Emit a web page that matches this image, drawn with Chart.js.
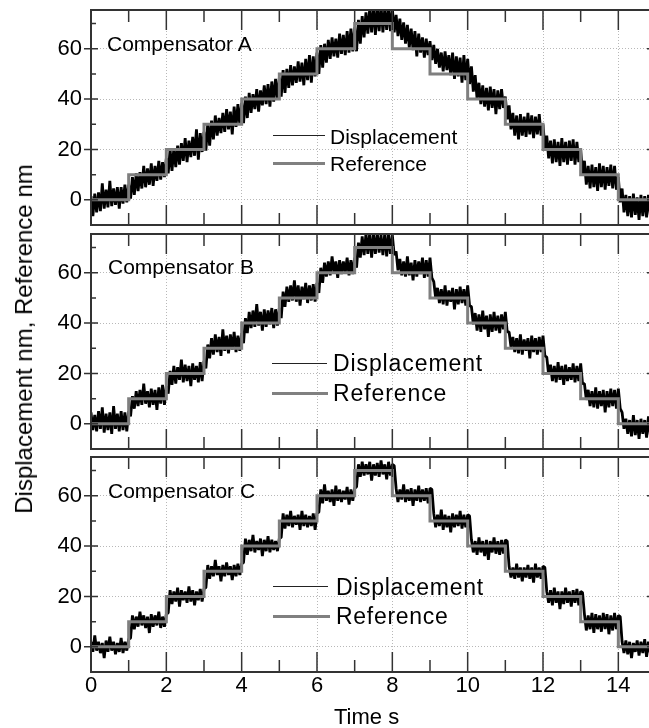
<!DOCTYPE html>
<html>
<head>
<meta charset="utf-8">
<script src="https://cdn.jsdelivr.net/npm/chart.js@4.4.1/dist/chart.umd.min.js"></script>
<style>
  html, body { margin: 0; padding: 0; background: #fff; overflow: hidden; }
  #fig { position: relative; width: 649px; height: 728px; overflow: hidden;
         font-family: "Liberation Sans", Arial, sans-serif; color: #000; }
  #fig canvas { position: absolute; left: 0; }
  .txt { position: absolute; white-space: nowrap; line-height: 1; }
  .sw { position: absolute; height: 0; }
</style>
</head>
<body>
<div id="fig">
  <canvas id="panelA" width="680" height="235" style="top:0px"></canvas>
  <canvas id="panelB" width="680" height="235" style="top:224px"></canvas>
  <canvas id="panelC" width="680" height="281" style="top:447px"></canvas>

  <div class="txt" style="left:107px; top:33px; font-size:21px;">Compensator A</div>
  <div class="sw" style="left:273px; top:135px; width:52px; border-top:1.2px solid #222;"></div>
  <div class="sw" style="left:273px; top:162px; width:52px; border-top:3px solid #808080;"></div>
  <div class="txt" style="left:330px; top:126px; font-size:21px;">Displacement</div>
  <div class="txt" style="left:330px; top:153px; font-size:21px;">Reference</div>

  <div class="txt" style="left:108px; top:256px; font-size:21px;">Compensator B</div>
  <div class="sw" style="left:272px; top:363px; width:55px; border-top:1.2px solid #222;"></div>
  <div class="sw" style="left:272px; top:392px; width:56px; border-top:3px solid #808080;"></div>
  <div class="txt" style="left:333px; top:352px; font-size:23px; letter-spacing:0.9px;">Displacement</div>
  <div class="txt" style="left:333px; top:382px; font-size:23px; letter-spacing:0.9px;">Reference</div>

  <div class="txt" style="left:108px; top:480px; font-size:21px;">Compensator C</div>
  <div class="sw" style="left:273px; top:586px; width:55px; border-top:1.2px solid #222;"></div>
  <div class="sw" style="left:273px; top:615px; width:57px; border-top:3px solid #808080;"></div>
  <div class="txt" style="left:336px; top:576px; font-size:23px; letter-spacing:0.7px;">Displacement</div>
  <div class="txt" style="left:336px; top:605px; font-size:23px; letter-spacing:0.7px;">Reference</div>

  <div class="txt" style="left:23.5px; top:339px; font-size:24px; transform:translate(-50%,-50%) rotate(-90deg);">Displacement nm, Reference nm</div>
  <div class="txt" style="left:334px; top:706px; font-size:22px;">Time s</div>
</div>

<script>
// Axis ticks
const xMajorTicks = [0, 2, 4, 6, 8, 10, 12, 14];
const xMinorTicks = [1, 3, 5, 7, 9, 11, 13];
const yMajorTicks = [0, 20, 40, 60];
const yMinorTicks = [10, 30, 50, 70];

// Reference staircase (nm), one level per second
const stepTimes = [0, 1, 2, 3, 4, 5, 6, 7, 8, 9, 10, 11, 12, 13, 14, 15];
const refLevels = [0, 10, 20, 30, 40, 50, 60, 70, 60, 50, 40, 30, 20, 10, 0, 0];

// Measured displacement (nm), sampled every 0.05 s from 0 to 15 s
const dispA = [
  1.5,-6.5,2.5,-5.0,3.0,-4.5,6.5,-3.5,4.0,-3.0,7.5,-2.5,4.5,-2.0,5.0,-3.5,5.0,-1.5,6.0,-1.0,
  6.0,0.5,9.0,2.0,10.5,3.5,11.0,4.5,13.5,5.0,12.5,6.0,14.5,5.5,13.5,7.5,15.5,8.0,15.0,9.0,
  16.5,10.5,20.0,11.5,20.5,13.0,21.5,14.0,22.5,15.5,24.5,15.0,23.5,17.0,25.0,17.5,28.0,16.0,26.5,19.0,
  27.0,19.5,30.5,21.5,31.5,24.0,33.5,25.5,32.5,26.5,34.5,27.0,36.0,28.0,35.0,26.0,37.0,29.0,38.0,30.0,
  38.5,30.5,41.0,32.5,42.5,34.5,42.0,36.0,44.0,35.0,43.5,37.5,45.5,38.0,46.0,37.0,47.0,39.0,48.0,40.0,
  48.5,41.0,51.5,42.5,52.0,44.5,53.5,45.5,53.0,46.5,55.0,47.0,54.5,45.5,56.0,47.5,57.5,46.5,57.0,49.0,
  58.5,50.0,61.5,52.5,62.0,54.5,63.5,56.0,64.5,57.0,64.0,56.5,66.0,58.0,65.5,57.5,67.0,58.5,68.0,59.0,
  68.5,59.0,71.5,62.0,73.0,64.5,74.5,66.0,76.0,66.5,77.0,65.5,76.5,67.0,77.0,66.5,76.0,67.5,76.5,67.0,
  76.0,66.5,73.5,65.0,72.0,63.5,70.5,62.0,69.5,60.5,68.0,59.5,67.0,57.0,66.0,58.5,64.5,56.5,64.0,57.5,
  63.0,55.5,61.5,54.0,60.0,52.5,58.5,51.0,59.0,51.5,57.5,49.5,58.5,48.0,57.0,49.0,56.5,46.5,57.5,47.5,
  56.0,46.0,53.0,43.0,49.5,40.0,46.5,38.0,45.5,37.0,44.5,35.5,45.0,36.5,44.0,34.0,43.5,36.0,44.0,36.5,
  41.0,32.0,37.5,28.0,34.5,25.5,33.5,24.0,34.0,25.5,33.0,25.0,34.5,26.0,33.5,24.5,33.0,26.0,34.0,25.5,
  30.0,20.5,25.5,16.5,23.5,14.5,24.0,15.0,23.0,13.5,24.5,15.0,23.0,14.0,23.5,15.5,24.0,14.0,23.0,15.0,
  20.0,10.0,15.5,6.0,13.5,4.5,14.0,5.0,13.0,3.5,14.5,5.0,13.5,4.0,13.0,5.5,14.0,4.5,13.5,4.0,
  9.0,-1.0,4.5,-5.0,2.0,-6.5,1.5,-7.0,2.5,-6.0,1.0,-8.0,2.0,-6.5,1.5,-7.0,2.0,-6.0,1.0,-7.0,
  1.5
];
const dispB = [
  4.5,-2.5,3.5,-3.0,5.0,-2.0,6.5,-3.5,4.0,-2.5,4.5,-4.0,7.0,-2.0,4.0,-3.0,5.0,-2.5,4.5,-3.0,
  5.0,3.0,11.0,6.0,13.0,7.0,13.5,7.5,16.0,8.0,13.0,6.5,14.0,7.5,13.5,5.5,14.5,8.0,15.5,7.5,
  15.0,12.0,21.0,15.5,23.0,16.0,22.5,17.5,25.5,16.5,23.5,17.0,23.0,15.0,24.0,17.5,23.0,16.5,24.5,17.0,
  25.0,22.0,31.5,26.0,34.0,27.5,35.5,28.5,34.5,27.0,37.5,29.0,35.0,28.0,35.5,29.5,36.5,28.5,35.0,29.0,
  36.0,32.0,42.0,36.0,44.5,38.0,45.0,38.5,47.5,39.0,44.5,37.0,45.5,38.5,45.0,39.5,46.0,38.0,45.5,39.0,
  46.0,42.0,52.5,46.5,54.5,48.5,55.0,49.0,57.0,48.5,55.0,47.0,54.5,49.5,56.0,48.0,55.0,49.0,55.5,48.5,
  56.0,52.0,62.0,56.0,64.0,58.5,64.5,59.0,66.5,60.0,64.5,58.0,65.0,59.5,64.5,60.0,66.0,59.0,65.0,59.5,
  66.0,62.0,72.0,66.0,74.5,67.0,75.5,67.5,76.0,66.0,75.5,67.5,76.0,68.0,75.0,67.0,76.0,66.5,75.5,67.5,
  75.0,67.0,68.5,61.0,65.5,59.0,64.5,58.5,66.5,59.0,64.0,57.0,65.0,58.5,64.5,59.5,66.0,58.0,65.0,58.5,
  66.0,58.0,56.5,50.0,54.0,48.0,53.5,47.5,55.0,47.0,53.0,48.5,54.0,45.5,53.5,47.5,54.5,48.0,53.5,47.0,
  55.0,47.0,46.5,39.5,44.0,37.0,43.5,36.5,45.0,37.5,43.0,34.5,43.5,36.5,44.5,37.0,43.0,36.0,43.5,37.5,
  44.5,36.5,36.5,30.5,34.5,28.5,34.0,28.0,35.5,27.5,33.5,29.0,34.0,26.0,35.0,28.5,34.0,27.5,34.5,28.5,
  35.0,27.0,26.5,19.5,23.5,17.0,23.0,16.5,24.5,17.5,23.0,15.5,23.5,17.0,22.5,17.5,24.0,16.5,23.0,17.0,
  24.0,16.0,16.0,9.5,13.5,7.0,13.0,6.5,14.5,6.0,13.0,7.0,13.5,4.5,13.0,6.5,14.0,7.0,13.5,6.0,
  14.0,6.0,4.5,-2.0,2.0,-4.0,1.5,-5.0,3.5,-4.5,1.5,-6.0,2.0,-4.0,1.5,-5.5,3.0,-4.5,2.0,-5.0,
  1.5
];
const dispC = [
  2.0,-2.0,4.5,-1.5,2.0,-2.5,1.5,-4.5,2.5,-2.0,4.0,-1.5,2.0,-3.0,1.5,-2.0,3.5,-2.5,2.0,-1.5,
  3.0,3.5,12.5,7.0,12.0,8.0,14.0,8.5,12.5,7.5,12.0,5.5,13.0,8.0,12.5,8.5,14.0,7.5,12.0,8.0,
  13.0,13.5,22.5,17.0,22.0,18.0,23.5,16.0,22.5,18.5,22.0,17.5,24.0,18.0,22.5,16.5,22.0,18.5,23.0,18.0,
  23.0,23.5,32.5,27.0,32.0,28.0,34.5,28.5,32.0,26.0,32.5,28.0,33.5,28.5,32.0,26.5,32.5,28.0,33.0,28.5,
  33.0,33.5,43.0,36.5,42.5,38.0,44.5,37.5,42.0,38.5,43.0,36.0,42.5,38.0,44.0,37.5,42.5,38.5,42.0,38.0,
  43.0,43.5,53.0,47.0,52.5,48.0,54.0,47.5,52.0,48.5,52.5,46.5,54.0,48.0,52.5,47.5,52.0,48.0,53.0,46.5,
  53.0,53.5,62.5,57.0,64.5,58.0,62.0,57.5,62.5,56.0,64.0,58.0,62.5,57.5,62.0,58.5,63.5,56.5,62.5,58.0,
  63.0,63.5,72.5,67.5,73.5,68.0,72.5,68.5,73.5,66.0,72.5,68.0,73.0,67.5,74.0,68.5,72.5,66.5,73.5,68.0,
  72.5,72.0,63.0,57.5,62.5,58.5,64.5,57.5,62.5,58.0,63.0,56.0,62.5,58.0,64.0,57.5,62.5,58.0,63.0,57.0,
  63.0,62.5,53.0,47.5,52.5,48.0,54.5,46.5,52.5,47.5,52.0,45.5,53.0,47.5,52.5,48.0,54.0,47.0,52.5,47.5,
  52.5,52.0,42.5,37.5,42.0,36.5,43.5,37.5,42.0,36.0,42.5,34.5,42.0,37.5,43.5,37.0,42.0,36.5,42.5,37.0,
  42.5,42.0,32.0,27.5,31.5,27.0,33.0,27.5,31.5,26.0,31.5,27.5,32.5,27.0,31.5,25.5,33.0,27.5,31.5,27.0,
  32.0,31.5,22.0,17.5,22.5,16.5,23.5,17.5,22.0,15.0,22.0,17.0,23.5,17.5,22.0,16.0,22.5,17.5,23.0,16.5,
  22.0,21.5,13.0,6.5,12.5,7.0,13.5,5.5,13.0,7.0,12.5,6.0,13.5,7.0,13.0,5.0,12.5,6.5,13.5,7.0,
  12.5,12.0,2.0,-2.5,2.5,-3.0,2.0,-4.5,1.5,-2.0,2.5,-3.5,2.0,-2.5,3.0,-4.0,2.0,-2.5,1.5,-3.0,
  1.5
];

// Sample instants of the displacement record (0.05 s spacing)
const sampleTimes = dispA.map((_, i) => Math.round(i * 5) / 100);

Chart.defaults.font.family = "'Liberation Sans', Arial, sans-serif";
Chart.defaults.color = '#000';

// Box frame plus inward minor/major tick marks on all four sides
const panelFrame = {
  id: 'panelFrame',
  afterDatasetsDraw(chart) {
    const { ctx, chartArea: a, scales: { x, y } } = chart;
    ctx.save();
    ctx.strokeStyle = '#333';
    ctx.lineWidth = 1.5;
    ctx.beginPath();
    const vTick = (v, len) => {
      const px = x.getPixelForValue(v);
      ctx.moveTo(px, a.bottom); ctx.lineTo(px, a.bottom - len);
      ctx.moveTo(px, a.top); ctx.lineTo(px, a.top + len);
    };
    const hTick = (v, out, inn) => {
      const py = y.getPixelForValue(v);
      ctx.moveTo(a.left - out, py); ctx.lineTo(a.left + inn, py);
      ctx.moveTo(a.right, py); ctx.lineTo(a.right - inn - 2, py);
    };
    xMajorTicks.forEach(v => vTick(v, 20));
    xMinorTicks.forEach(v => vTick(v, 12));
    yMajorTicks.forEach(v => hTick(v, 7, 7));
    yMinorTicks.forEach(v => hTick(v, 0, 5));
    ctx.stroke();
    ctx.lineWidth = 2;
    ctx.strokeRect(a.left, a.top, a.right - a.left, a.bottom - a.top);
    ctx.restore();
  }
};

function makePanel(canvasId, disp, withTimeAxis) {
  return new Chart(document.getElementById(canvasId), {
    type: 'line',
    data: {
      datasets: [
        {
          label: 'Reference',
          data: stepTimes.map((t, i) => ({ x: t, y: refLevels[i] })),
          borderColor: '#7f7f7f', borderWidth: 3, stepped: true,
          pointRadius: 0, order: 0, clip: 0
        },
        {
          label: 'Displacement',
          data: sampleTimes.map((t, i) => ({ x: t, y: disp[i] })),
          borderColor: '#000', borderWidth: 2.8, borderJoinStyle: 'bevel', tension: 0,
          pointRadius: 0, order: 1, clip: 0
        }
      ]
    },
    options: {
      responsive: false, animation: false, devicePixelRatio: 1,
      events: [],
      layout: { padding: { left: 0, right: 24, top: 10, bottom: withTimeAxis ? 0 : 10 } },
      plugins: { legend: { display: false }, tooltip: { enabled: false } },
      scales: {
        x: {
          type: 'linear', min: 0, max: 15,
          afterBuildTicks: s => { s.ticks = xMajorTicks.map(v => ({ value: v })); },
          afterFit: s => { s.height = withTimeAxis ? 56 : 0; s.paddingLeft = 0; s.paddingRight = 0; },
          grid: { color: '#b8b8b8', lineWidth: 1, drawTicks: false },
          border: { display: false, dash: [1, 2] },
          ticks: { display: withTimeAxis, padding: 1, maxRotation: 0, font: { size: 22 }, color: '#000' }
        },
        y: {
          type: 'linear', min: -10, max: 75.4,
          afterBuildTicks: s => { s.ticks = yMajorTicks.map(v => ({ value: v })); },
          afterFit: s => { s.width = 91; s.paddingTop = 0; s.paddingBottom = 0; },
          grid: { color: '#b8b8b8', lineWidth: 1, drawTicks: false },
          border: { display: false, dash: [1, 2] },
          ticks: { padding: 9, font: { size: 22 }, color: '#000' }
        }
      }
    },
    plugins: [panelFrame]
  });
}

makePanel('panelA', dispA, false);
makePanel('panelB', dispB, false);
makePanel('panelC', dispC, true);
</script>
</body>
</html>
